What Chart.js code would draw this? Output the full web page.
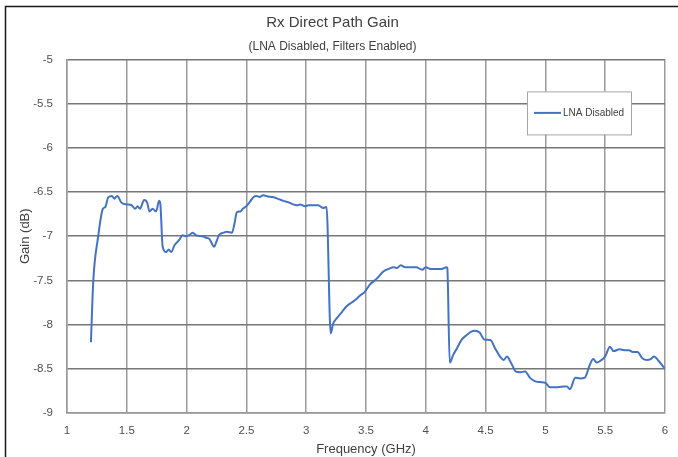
<!DOCTYPE html>
<html>
<head>
<meta charset="utf-8">
<script src="https://cdn.jsdelivr.net/npm/chart.js"></script>
<style>
  html, body { margin: 0; padding: 0; background: #ffffff; }
  canvas { display: block; }
</style>
</head>
<body>
<canvas id="chart" width="678" height="457"></canvas>
<script>
const freqGHz = [
  1.20, 1.22, 1.26, 1.30, 1.32, 1.345, 1.375, 1.395, 1.42, 1.455,
  1.50, 1.54, 1.57, 1.59, 1.61, 1.645, 1.67, 1.69, 1.715, 1.745,
  1.77, 1.78, 1.80, 1.83, 1.85, 1.87, 1.90, 1.94, 1.965, 1.995,
  2.03, 2.05, 2.08, 2.13, 2.17, 2.19, 2.21, 2.23, 2.25, 2.27,
  2.31, 2.335, 2.38, 2.40, 2.42, 2.45, 2.47, 2.50, 2.53, 2.56,
  2.585, 2.61, 2.64, 2.68, 2.72, 2.77, 2.81, 2.85, 2.89, 2.925,
  2.95, 2.99, 3.02, 3.06, 3.10, 3.14, 3.17, 3.205, 3.225, 3.255,
  3.30, 3.34, 3.38, 3.42, 3.45, 3.49, 3.53, 3.59, 3.645, 3.69,
  3.73, 3.76, 3.79, 3.83, 3.87, 3.92, 3.97, 4.00, 4.04, 4.09,
  4.13, 4.175, 4.18, 4.20, 4.23, 4.26, 4.30, 4.34, 4.38, 4.41,
  4.45, 4.49, 4.54, 4.58, 4.62, 4.65, 4.68, 4.70, 4.73, 4.75,
  4.79, 4.83, 4.87, 4.91, 4.955, 5.00, 5.04, 5.09, 5.15, 5.18,
  5.205, 5.25, 5.29, 5.33, 5.37, 5.40, 5.43, 5.46, 5.50, 5.54,
  5.57, 5.62, 5.66, 5.70, 5.73, 5.77, 5.81, 5.85, 5.88, 5.91,
  5.94, 6.00
];
const gainLnaDisabled = [
  -8.20, -7.50, -7.01, -6.69, -6.67, -6.56, -6.545, -6.575, -6.545, -6.62,
  -6.64, -6.65, -6.69, -6.66, -6.69, -6.59, -6.62, -6.72, -6.69, -6.72,
  -6.60, -6.63, -7.12, -7.18, -7.15, -7.18, -7.10, -7.04, -6.99, -7.00,
  -6.98, -6.96, -6.99, -7.00, -7.02, -7.03, -7.08, -7.12, -7.06, -6.99,
  -6.96, -6.95, -6.96, -6.86, -6.73, -6.72, -6.69, -6.66, -6.61, -6.556,
  -6.545, -6.556, -6.537, -6.55, -6.556, -6.58, -6.60, -6.615, -6.64, -6.65,
  -6.64, -6.66, -6.65, -6.65, -6.65, -6.68, -6.67, -8.10, -7.99, -7.93,
  -7.855, -7.79, -7.75, -7.71, -7.67, -7.63, -7.55, -7.48, -7.40, -7.37,
  -7.35, -7.36, -7.33, -7.35, -7.35, -7.35, -7.38, -7.35, -7.37, -7.37,
  -7.37, -7.35, -7.36, -8.43, -8.34, -8.27, -8.17, -8.12, -8.08, -8.07,
  -8.09, -8.17, -8.175, -8.27, -8.36, -8.40, -8.36, -8.40, -8.48, -8.53,
  -8.54, -8.53, -8.60, -8.64, -8.65, -8.66, -8.71, -8.71, -8.70, -8.70,
  -8.73, -8.60, -8.61, -8.60, -8.46, -8.39, -8.43, -8.41, -8.36, -8.25,
  -8.30, -8.28, -8.29, -8.29, -8.31, -8.31, -8.38, -8.40, -8.39, -8.36,
  -8.40, -8.50
];
const xTicks = [1, 1.5, 2, 2.5, 3, 3.5, 4, 4.5, 5, 5.5, 6];
const yTicks = [-9, -8.5, -8, -7.5, -7, -6.5, -6, -5.5, -5];

const FONT = '"Liberation Sans", Arial, sans-serif';
const LINE_COLOR = '#4472c4';

// Black frame around the whole figure (only left and top edges are in view)
const framePlugin = {
  id: 'frame',
  beforeDraw(chart) {
    const ctx = chart.ctx;
    ctx.save();
    ctx.fillStyle = '#ffffff';
    ctx.fillRect(0, 0, chart.width, chart.height);
    ctx.strokeStyle = '#1a1a1a';
    ctx.lineWidth = 1.5;
    ctx.beginPath();
    ctx.moveTo(5.5, chart.height);
    ctx.lineTo(5.5, 6.5);
    ctx.lineTo(chart.width, 6.5);
    ctx.stroke();
    ctx.restore();
  }
};

// Boxed legend sitting inside the plot, top right
const boxLegendPlugin = {
  id: 'boxLegend',
  afterDraw(chart) {
    const ctx = chart.ctx;
    const area = chart.chartArea;
    const ds = chart.data.datasets[0];
    const x = area.right - 138, y = area.top + 32, w = 104, h = 43;
    ctx.save();
    ctx.fillStyle = '#ffffff';
    ctx.fillRect(x, y, w, h);
    ctx.strokeStyle = '#a6a6a6';
    ctx.lineWidth = 1;
    ctx.strokeRect(x + 0.5, y + 0.5, w, h);
    ctx.strokeStyle = ds.borderColor;
    ctx.lineWidth = 2;
    ctx.beginPath();
    ctx.moveTo(x + 7, y + h / 2);
    ctx.lineTo(x + 34, y + h / 2);
    ctx.stroke();
    ctx.fillStyle = '#404040';
    ctx.font = '10px ' + FONT;
    ctx.textBaseline = 'middle';
    ctx.fillText(ds.label, x + 36, y + h / 2 + 0.5);
    ctx.restore();
  }
};

const plainNumber = v => String(v);

new Chart(document.getElementById('chart'), {
  type: 'line',
  data: {
    datasets: [{
      label: 'LNA Disabled',
      data: freqGHz.map((f, i) => ({ x: f, y: gainLnaDisabled[i] })),
      borderColor: LINE_COLOR,
      borderWidth: 2,
      pointRadius: 0,
      cubicInterpolationMode: 'monotone',
      fill: false
    }]
  },
  options: {
    responsive: false,
    animation: false,
    devicePixelRatio: 1,
    layout: { padding: { left: 0, right: 13, top: 0, bottom: 0 } },
    plugins: {
      legend: { display: false },
      tooltip: { enabled: false },
      title: {
        display: true,
        text: 'Rx Direct Path Gain',
        color: '#404040',
        font: { family: FONT, size: 15, weight: 'normal' },
        padding: { top: 14, bottom: 7 }
      },
      subtitle: {
        display: true,
        text: '(LNA Disabled, Filters Enabled)',
        color: '#404040',
        font: { family: FONT, size: 12, weight: 'normal' },
        padding: { top: 0, bottom: 6 }
      }
    },
    scales: {
      x: {
        type: 'linear',
        min: 1,
        max: 6,
        afterBuildTicks: s => { s.ticks = xTicks.map(v => ({ value: v })); },
        afterFit: s => { s.height = 44; s.paddingLeft = 0; s.paddingRight = 0; },
        grid: { color: '#9a9a9a', lineWidth: 1.5, drawTicks: false },
        border: { color: '#9a9a9a', width: 1.5 },
        ticks: { color: '#505050', padding: 11, font: { family: FONT, size: 11.5 }, callback: plainNumber },
        title: {
          display: true,
          text: 'Frequency (GHz)',
          color: '#404040',
          font: { family: FONT, size: 13 },
          padding: { top: 0, bottom: 0 }
        }
      },
      y: {
        min: -9,
        max: -5,
        afterBuildTicks: s => { s.ticks = yTicks.map(v => ({ value: v })); },
        afterFit: s => { s.width = 67; },
        grid: { color: '#777777', lineWidth: 1.5, drawTicks: false },
        border: { color: '#9a9a9a', width: 1.5 },
        ticks: { color: '#505050', padding: 14, font: { family: FONT, size: 11.5 }, callback: plainNumber },
        title: {
          display: true,
          text: 'Gain (dB)',
          color: '#404040',
          font: { family: FONT, size: 13 },
          padding: { top: 18, bottom: 0 }
        }
      }
    }
  },
  plugins: [framePlugin, boxLegendPlugin]
});
</script>
</body>
</html>
